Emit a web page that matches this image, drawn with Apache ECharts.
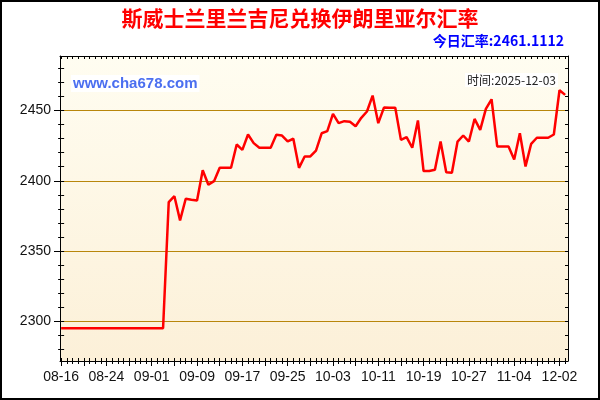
<!DOCTYPE html>
<html>
<head>
<meta charset="utf-8">
<script src="https://cdn.jsdelivr.net/npm/echarts@6/dist/echarts.min.js"></script>
<style>
html,body{margin:0;padding:0;background:#fff;}
#c{width:600px;height:400px;}
</style>
</head>
<body>
<div id="c"></div>
<script>
const titleText = '斯威士兰里兰吉尼兑换伊朗里亚尔汇率';
const rateText = '今日汇率:2461.1112';
const siteText = 'www.cha678.com';
const timeText = '时间:2025-12-03';

const dates = [
 '08-16','08-17','08-18','08-19','08-20','08-21','08-22','08-23','08-24','08-25','08-26','08-27','08-28','08-29','08-30','08-31',
 '09-01','09-02','09-03','09-04','09-05','09-06','09-07','09-08','09-09','09-10','09-11','09-12','09-13','09-14','09-15','09-16',
 '09-17','09-18','09-19','09-20','09-21','09-22','09-23','09-24','09-25','09-26','09-27','09-28','09-29','09-30',
 '10-01','10-02','10-03','10-04','10-05','10-06','10-07','10-08','10-09','10-10','10-11','10-12','10-13','10-14','10-15','10-16',
 '10-17','10-18','10-19','10-20','10-21','10-22','10-23','10-24','10-25','10-26','10-27','10-28','10-29','10-30','10-31',
 '11-01','11-02','11-03','11-04','11-05','11-06','11-07','11-08','11-09','11-10','11-11','12-02','12-03'
];

const rates = [
 2295,2295,2295,2295,2295,2295,2295,2295,2295,2295,2295,2295,2295,2295,2295,2295,2295,2295,2295,
 2384.8,2389,2371.8,2387.2,2386.5,2386,2407.5,2397.2,2399.7,2409.2,2409.2,2409.2,2425.8,2422,2432.9,2426.8,
 2423.5,2423.5,2423.5,2432.7,2432.2,2428,2429.9,2409.2,2417.3,2417.3,2421.5,2433.8,2435.3,2447.6,2441,
 2442.4,2442,2438.8,2444.8,2449.3,2460.6,2441,2452.1,2451.9,2451.9,2429.1,2431,2423.5,2442.9,2406.9,
 2406.9,2407.8,2427.9,2406.1,2405.7,2427.9,2432.2,2427.9,2444,2436.2,2451.2,2458,2424.4,2424.4,2424.4,
 2415.1,2433.8,2410.2,2426.3,2430.6,2430.6,2430.6,2432.9,2464.4,2461.11
];

const yLabelValues = [2300, 2350, 2400, 2450];
const yMinorValues = [2280,2290,2300,2310,2320,2330,2340,2350,2360,2370,2380,2390,2400,2410,2420,2430,2440,2450,2460,2470,2480];
const xLabelIdx = [0,8,16,24,32,40,48,56,64,72,80,88];

const allIdx = dates.map((d, i) => i);
const quarterIdx = allIdx.filter(i => i % 4 === 0);

const X_MIN = -0.2, X_MAX = 89.5, Y_MIN = 2271.7, Y_MAX = 2488.8;
const axisFont = { fontFamily: 'Liberation Sans, Arial, sans-serif', fontSize: 14, color: '#111' };

function baseX(extra) {
  return Object.assign({
    type: 'value', min: X_MIN, max: X_MAX, gridIndex: 0,
    splitLine: { show: false },
    axisLabel: { show: false },
    axisLine: { show: false },
    axisTick: { show: false }
  }, extra);
}
function baseY(extra) {
  return Object.assign({
    type: 'value', min: Y_MIN, max: Y_MAX, gridIndex: 0,
    splitLine: { show: false },
    axisLabel: { show: false },
    axisLine: { show: false },
    axisTick: { show: false }
  }, extra);
}

const chart = echarts.init(document.getElementById('c'), null, { renderer: 'canvas' });
chart.setOption({
  animation: false,
  backgroundColor: '#fff',
  title: [
    { text: titleText, left: 'center', top: 8, padding: 0,
      textStyle: { fontSize: 21, fontWeight: 'bold', color: '#ff0000', fontFamily: 'Noto Sans CJK SC' } },
    { text: rateText, right: 36, top: 34, padding: 0,
      textStyle: { fontSize: 14, fontWeight: 'bold', color: '#0000ff', fontFamily: 'Noto Sans CJK SC' } },
    { text: siteText, left: 71, top: 75, padding: [1, 2], backgroundColor: '#ffffff',
      textStyle: { fontSize: 15, fontWeight: 'bold', color: '#4b6ff0', fontFamily: 'Liberation Sans, Arial, sans-serif' } },
    { text: timeText, right: 42, top: 73, padding: [1, 2], backgroundColor: '#ffffff',
      textStyle: { fontSize: 12, fontWeight: 'normal', color: '#222', fontFamily: 'Noto Sans CJK SC' } }
  ],
  graphic: [
    { type: 'rect', silent: true, z: 100,
      shape: { x: 1, y: 1, width: 598, height: 398 },
      style: { fill: null, stroke: '#000', lineWidth: 2 } }
  ],
  grid: {
    left: 60, right: 32, top: 56, bottom: 39,
    show: true, borderWidth: 0,
    backgroundColor: new echarts.graphic.LinearGradient(0, 0, 0, 1, [
      { offset: 0, color: '#fffdf1' },
      { offset: 1, color: '#fcf0d8' }
    ])
  },
  xAxis: [
    baseX({
      position: 'bottom',
      axisLine: { show: true, onZero: false, lineStyle: { color: '#000', width: 1 } },
      axisTick: { show: true, customValues: allIdx, length: 3, lineStyle: { color: '#000' } },
      axisLabel: Object.assign({ show: true, customValues: xLabelIdx, margin: 9,
        formatter: v => dates[Math.round(v)] || '' }, axisFont)
    }),
    baseX({
      position: 'bottom',
      axisTick: { show: true, inside: true, customValues: allIdx, length: 3, lineStyle: { color: '#000' } }
    }),
    baseX({
      position: 'bottom',
      axisTick: { show: true, customValues: quarterIdx, length: 5, lineStyle: { color: '#000' } }
    }),
    baseX({
      position: 'top',
      axisLine: { show: true, onZero: false, lineStyle: { color: '#000', width: 1 } },
      axisTick: { show: true, inside: true, customValues: allIdx, length: 3, lineStyle: { color: '#000' } }
    })
  ],
  yAxis: [
    baseY({
      position: 'left',
      axisLine: { show: true, onZero: false, lineStyle: { color: '#000', width: 1 } },
      axisTick: { show: true, customValues: yLabelValues, length: 6, lineStyle: { color: '#000' } },
      axisLabel: Object.assign({ show: true, customValues: yLabelValues, margin: 9,
        formatter: v => String(Math.round(v)) }, axisFont),
      splitLine: { show: true, lineStyle: { color: '#b8860b', width: 1 } }
    }),
    baseY({
      position: 'left',
      axisTick: { show: true, customValues: yMinorValues, length: 3, lineStyle: { color: '#000' } }
    }),
    baseY({
      position: 'left',
      axisTick: { show: true, inside: true, customValues: yMinorValues, length: 3, lineStyle: { color: '#000' } }
    }),
    baseY({
      position: 'right',
      axisLine: { show: true, onZero: false, lineStyle: { color: '#000', width: 1 } },
      axisTick: { show: true, inside: true, customValues: yMinorValues, length: 3, lineStyle: { color: '#000' } }
    }),
    baseY({
      position: 'right',
      axisTick: { show: true, inside: true, customValues: yLabelValues, length: 6, lineStyle: { color: '#000' } }
    })
  ],
  series: [{
    type: 'line',
    xAxisIndex: 0, yAxisIndex: 0,
    data: rates.map((v, i) => [i, v]),
    showSymbol: false,
    symbol: 'none',
    lineStyle: { color: '#ff0000', width: 2.5 },
    itemStyle: { color: '#ff0000' },
    z: 5
  }]
});
</script>
</body>
</html>
